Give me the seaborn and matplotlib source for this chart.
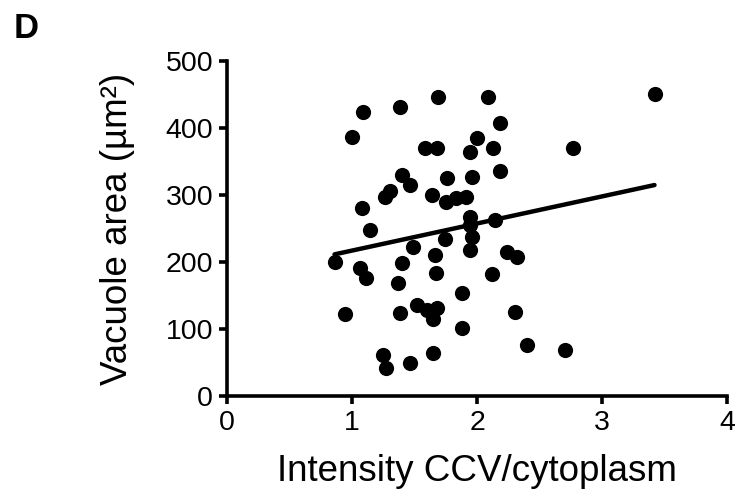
import pandas as pd
import matplotlib
matplotlib.use("Agg")
import matplotlib.pyplot as plt
import seaborn as sns

intensity = [0.86, 0.94, 1.00, 1.06, 1.08, 1.09, 1.11, 1.14, 1.25, 1.26,
             1.27, 1.30, 1.37, 1.38, 1.38, 1.40, 1.40, 1.46, 1.46, 1.49,
             1.52, 1.58, 1.60, 1.64, 1.65, 1.65, 1.66, 1.67, 1.68, 1.68,
             1.69, 1.74, 1.75, 1.76, 1.83, 1.88, 1.88, 1.91, 1.94, 1.94,
             1.94, 1.94, 1.96, 1.96, 2.00, 2.09, 2.12, 2.13, 2.14, 2.18,
             2.18, 2.24, 2.30, 2.32, 2.40, 2.70, 2.77, 3.42]
area = [200, 122, 387, 191, 281, 424, 176, 248, 61, 297,
        42, 306, 168, 431, 124, 330, 198, 315, 49, 222,
        136, 370, 128, 300, 115, 64, 210, 183, 131, 370,
        446, 234, 290, 325, 296, 154, 101, 297, 364, 267,
        255, 218, 327, 237, 385, 446, 182, 370, 263, 407,
        336, 215, 125, 207, 76, 69, 370, 451]

x_ticks = [0, 1, 2, 3, 4]
y_ticks = [0, 100, 200, 300, 400, 500]

df = pd.DataFrame({"intensity": intensity, "area": area})

sns.set_style("ticks")
plt.rcParams["font.family"] = ["Liberation Sans", "DejaVu Sans"]
plt.rcParams["text.color"] = "black"
plt.rcParams["axes.labelcolor"] = "black"
plt.rcParams["xtick.color"] = "black"
plt.rcParams["ytick.color"] = "black"

fig = plt.figure(figsize=(7.38, 4.93), dpi=100)
ax = fig.add_axes([0.3076, 0.197, 0.6775, 0.679])

sns.regplot(data=df, x="intensity", y="area", ax=ax, ci=None,
            scatter_kws={"s": 120, "color": "black", "linewidths": 0, "alpha": 1},
            line_kws={"color": "black", "lw": 3.2, "solid_capstyle": "round"})

ax.set_xlim(0, 4)
ax.set_ylim(0, 500)
ax.set_xticks(x_ticks)
ax.set_yticks(y_ticks)
ax.set_xlabel("Intensity CCV/cytoplasm", fontsize=26.5, labelpad=13)
ax.set_ylabel("Vacuole area (µm²)", fontsize=26.5, labelpad=22)
ax.tick_params(labelsize=20.5, width=2.6, length=6, pad=4)
for side in ["left", "bottom"]:
    ax.spines[side].set_linewidth(2.6)
    ax.spines[side].set_color("black")
for side in ["top", "right"]:
    ax.spines[side].set_visible(False)

fig.text(0.018, 0.975, "D", fontsize=25, fontweight="bold", va="top", ha="left")

fig.savefig("out.png", dpi=100)
